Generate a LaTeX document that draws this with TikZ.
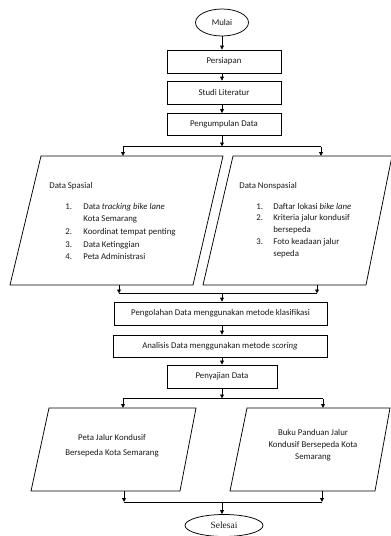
\documentclass[tikz,border=0pt]{standalone}
\usepackage{fontspec}
\setmainfont{Carlito}
\newfontfamily\serifx{Liberation Serif}
\usetikzlibrary{arrows.meta,shapes.geometric}
\begin{document}
\begin{tikzpicture}[x=1pt,y=-1pt,
  line width=0.75pt,
  every node/.style={inner sep=0pt, text=black!90},
  fnt/.style={font=\fontsize{8.8}{10}\selectfont},
  box/.style={draw, fnt, minimum height=23pt},
  oval/.style={draw, ellipse, minimum width=53pt, minimum height=27pt},
  arr/.style={-{Triangle[length=4pt,width=3.8pt]}},
  para/.style={draw}]
\useasboundingbox (0,0) rectangle (391,536);

% top chain
\node[oval, fnt] (mulai) at (222,22.5) {Mulai};
\node[box, minimum width=114pt] (persiapan) at (224,61.5) {Persiapan};
\node[box, minimum width=114pt] (studi) at (224,92.5) {Studi Literatur};
\node[box, minimum width=114pt, minimum height=22pt] (kumpul) at (224,124.5) {Pengumpulan Data};

\draw[arr] (mulai.south) -- (mulai.south |- persiapan.north);
\draw[arr] (persiapan.south -| mulai.south) -- (studi.north -| mulai.south);
\draw[arr] (studi.south -| mulai.south) -- (kumpul.north -| mulai.south);

% split 1
\coordinate (j1) at (222,146.5);
\coordinate (j1l) at (123,146.5);
\coordinate (j1r) at (321,146.5);
\coordinate (spTop) at (123,156);
\coordinate (nsTop) at (321,156);
\draw[arr] (kumpul.south -| j1) -- (j1);
\draw (j1l) -- (j1r);
\draw[arr] (j1l) -- (spTop);
\draw[arr] (j1r) -- (nsTop);

% parallelograms
\draw[para] (41,156) -- (223,156) -- (193,285) -- (10,285) -- cycle;
\draw[para] (233,156) -- (392,156) -- (366,285) -- (203,285) -- cycle;

\node[fnt, anchor=base west] (sptitle) at (49,188) {Data Spasial};
\node[anchor=base west, font=\fontsize{8.8}{12.7}\selectfont] (splist) at (65,209)
 {\begin{tabular}[t]{@{}p{18pt}@{}l@{}}
 1. & Data \textit{tracking bike lane}\\
    & Kota Semarang\\
 2. & Koordinat tempat penting\\
 3. & Data Ketinggian\\
 4. & Peta Administrasi
 \end{tabular}};

\node[fnt, anchor=base west] (nstitle) at (239,188) {Data Nonspasial};
\node[anchor=base west, font=\fontsize{8.8}{11.8}\selectfont] (nslist) at (256,209)
 {\begin{tabular}[t]{@{}p{17pt}@{}l@{}}
 1. & Daftar lokasi \textit{bike lane}\\
 2. & Kriteria jalur kondusif\\
    & bersepeda\\
 3. & Foto keadaan jalur\\
    & sepeda
 \end{tabular}};

% merge 1
\coordinate (spBot) at (119,285);
\coordinate (nsBot) at (317,285);
\coordinate (m1l) at (119,293.5);
\coordinate (m1r) at (317,293.5);
\coordinate (m1) at (222,293.5);
\draw[arr] (spBot) -- (m1l);
\draw[arr] (nsBot) -- (m1r);
\draw (m1l) -- (m1r);

\node[box, minimum width=213pt] (olah) at (220.5,313.5) {Pengolahan Data menggunakan metode klasifikasi};
\node[box, minimum width=214pt, minimum height=22pt] (analisis) at (220,346) {Analisis Data menggunakan metode \textit{scoring}};
\node[box, minimum width=110pt] (saji) at (222,376.5) {Penyajian Data};

\draw[arr] (m1) -- (m1 |- olah.north);
\draw[arr] (olah.south -| m1) -- (analisis.north -| m1);
\draw[arr] (analisis.south -| m1) -- (saji.north -| m1);

% split 2
\coordinate (j2) at (222,398.5);
\coordinate (j2l) at (123,398.5);
\coordinate (j2r) at (323,398.5);
\coordinate (pTop) at (123,408);
\coordinate (bTop) at (323,408);
\draw[arr] (saji.south -| j2) -- (j2);
\draw (j2l) -- (j2r);
\draw[arr] (j2l) -- (pTop);
\draw[arr] (j2r) -- (bTop);

\draw[para] (49,408) -- (196,408) -- (180,491) -- (31,491) -- cycle;
\draw[para] (247,408) -- (390,408) -- (375,491) -- (230,491) -- cycle;

\node[align=center, font=\fontsize{8.8}{14.5}\selectfont] (peta) at (112,445.5) {Peta Jalur Kondusif\\Bersepeda Kota Semarang};
\node[align=center, font=\fontsize{8.8}{12}\selectfont] (buku) at (313,445) {Buku Panduan Jalur\\Kondusif Bersepeda Kota\\Semarang};

% merge 2
\coordinate (pBot) at (124,491);
\coordinate (bBot) at (322,491);
\coordinate (m2l) at (124,502);
\coordinate (m2r) at (322,502);
\coordinate (m2) at (222,502);
\draw[arr] (pBot) -- (m2l);
\draw[arr] (bBot) -- (m2r);
\draw (m2l) -- (m2r);

\node[draw, ellipse, minimum width=78pt, minimum height=22pt, font=\serifx\fontsize{9.5}{11}\selectfont] (selesai) at (224,525.5) {Selesai};
\draw[arr] (m2) -- (m2 |- selesai.north);
\end{tikzpicture}
\end{document}
